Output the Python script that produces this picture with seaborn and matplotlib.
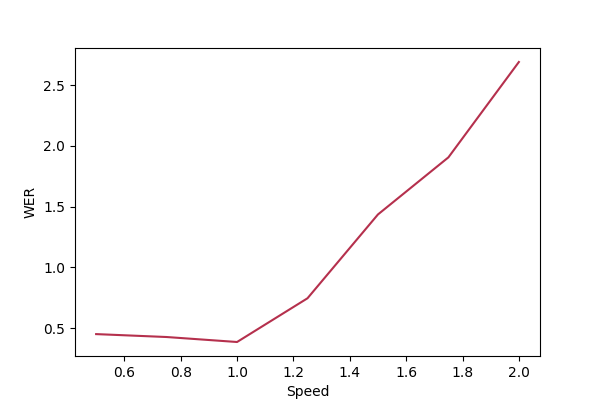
import matplotlib
matplotlib.use('Agg')
import matplotlib.pyplot as plt
import seaborn as sns
import pandas as pd

# speed vs word error rate
speeds = [0.5, 0.75, 1.0, 1.25, 1.5, 1.75, 2.0]
wer = [0.45, 0.426, 0.385, 0.745, 1.435, 1.905, 2.69]

df = pd.DataFrame({'Speed': speeds, 'WER': wer})

fig, ax = plt.subplots(figsize=(6, 4), dpi=100)
sns.lineplot(data=df, x='Speed', y='WER', color='#b5304d', ax=ax)
ax.set_xlabel('Speed')
ax.set_ylabel('WER')
plt.savefig('out.png')
